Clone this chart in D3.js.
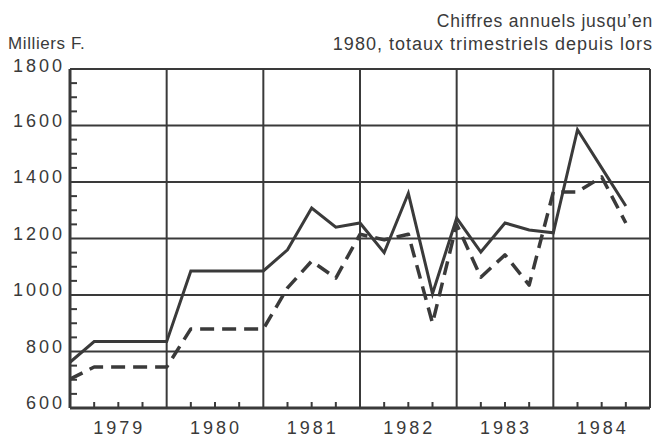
<!DOCTYPE html>
<html>
<head>
<meta charset="utf-8">
<script src="https://cdn.jsdelivr.net/npm/d3@7"></script>
<style>
  body { margin: 0; background: #fff; }
  text { font-family: "Liberation Sans", Arial, sans-serif; fill: #3a3a3a; }
</style>
</head>
<body>
<svg id="chart" width="658" height="439"></svg>
<script>
// data: time in years, value in thousand francs
const years = [1979, 1980, 1981, 1982, 1983, 1984];
const yTicks = [600, 800, 1000, 1200, 1400, 1600, 1800];

const times = [1979, 1979.25, 1980, 1980.25, 1981, 1981.25, 1981.5, 1981.75,
  1982, 1982.25, 1982.5, 1982.75, 1983, 1983.25, 1983.5, 1983.75,
  1984, 1984.25, 1984.5, 1984.75];
const solidValues = [762, 835, 835, 1085, 1085, 1160, 1308, 1240,
  1255, 1150, 1360, 1005, 1272, 1152, 1255, 1230,
  1220, 1585, 1450, 1315];
const dashedValues = [702, 745, 745, 880, 880, 1025, 1120, 1060,
  1215, 1195, 1215, 900, 1250, 1063, 1142, 1035,
  1365, 1365, 1418, 1255];

((() => {
  const ink = "#3a3a3a";
  const svg = d3.select("#chart");

  const x = d3.scaleLinear().domain([1979, 1985]).range([70, 650]);
  const y = d3.scaleLinear().domain([600, 1800]).range([408, 69]);

  // titles
  svg.append("text").attr("x", 8).attr("y", 49)
    .attr("font-size", 17).attr("letter-spacing", 0.6).text("Milliers F.");
  svg.append("text").attr("x", 653).attr("y", 27)
    .attr("font-size", 17.5).attr("letter-spacing", 0.8).attr("text-anchor", "end")
    .text("Chiffres annuels jusqu\u2019en");
  svg.append("text").attr("x", 653).attr("y", 50)
    .attr("font-size", 18).attr("letter-spacing", 1).attr("text-anchor", "end")
    .text("1980, totaux trimestriels depuis lors");

  const grid = svg.append("g");

  // horizontal grid lines
  grid.selectAll(".h")
    .data(yTicks)
    .enter()
    .append("line")
    .attr("x1", x(1979)).attr("x2", x(1985))
    .attr("y1", d => y(d)).attr("y2", d => y(d))
    .attr("stroke", ink)
    .attr("stroke-width", d => d === 600 ? 3 : 2);

  // vertical grid lines at year boundaries
  grid.selectAll(".v")
    .data(years.concat([1985]))
    .enter()
    .append("line")
    .attr("x1", d => x(d)).attr("x2", d => x(d))
    .attr("y1", y(1800)).attr("y2", y(600))
    .attr("stroke", ink)
    .attr("stroke-width", d => d === 1979 ? 3 : 2);

  // minor ticks on the left axis every 50
  const minorY = d3.range(650, 1800, 50).filter(v => v % 200 !== 0);
  grid.selectAll(".my")
    .data(minorY)
    .enter()
    .append("line")
    .attr("x1", x(1979)).attr("x2", x(1979) + 7)
    .attr("y1", d => y(d)).attr("y2", d => y(d))
    .attr("stroke", ink).attr("stroke-width", 2);

  // quarter ticks on the bottom axis
  const minorX = d3.range(1979, 1985, 0.25).filter(v => v % 1 !== 0);
  grid.selectAll(".mx")
    .data(minorX)
    .enter()
    .append("line")
    .attr("x1", d => x(d)).attr("x2", d => x(d))
    .attr("y1", y(600)).attr("y2", y(600) - 6)
    .attr("stroke", ink).attr("stroke-width", 2);

  // tick labels
  svg.selectAll(".yl")
    .data(yTicks)
    .enter()
    .append("text")
    .attr("x", 65)
    .attr("y", d => y(d) + (d === 1800 ? 3 : 1))
    .attr("text-anchor", "end")
    .attr("font-size", 18)
    .attr("letter-spacing", 3)
    .text(d => d);

  svg.selectAll(".xl")
    .data(years)
    .enter()
    .append("text")
    .attr("x", d => x(d + 0.5) + 1)
    .attr("y", 434)
    .attr("text-anchor", "middle")
    .attr("font-size", 18)
    .attr("letter-spacing", 3)
    .text(d => d);

  // the two series
  const line = d3.line()
    .x(d => x(d[0]))
    .y(d => y(d[1]));

  svg.append("path")
    .datum(d3.zip(times, dashedValues))
    .attr("d", line)
    .attr("fill", "none")
    .attr("stroke", ink)
    .attr("stroke-width", 3.5)
    .attr("stroke-dasharray", "14 8")
    .attr("stroke-linejoin", "round");

  svg.append("path")
    .datum(d3.zip(times, solidValues))
    .attr("d", line)
    .attr("fill", "none")
    .attr("stroke", ink)
    .attr("stroke-width", 3)
    .attr("stroke-linejoin", "miter");
})());
</script>
</body>
</html>
